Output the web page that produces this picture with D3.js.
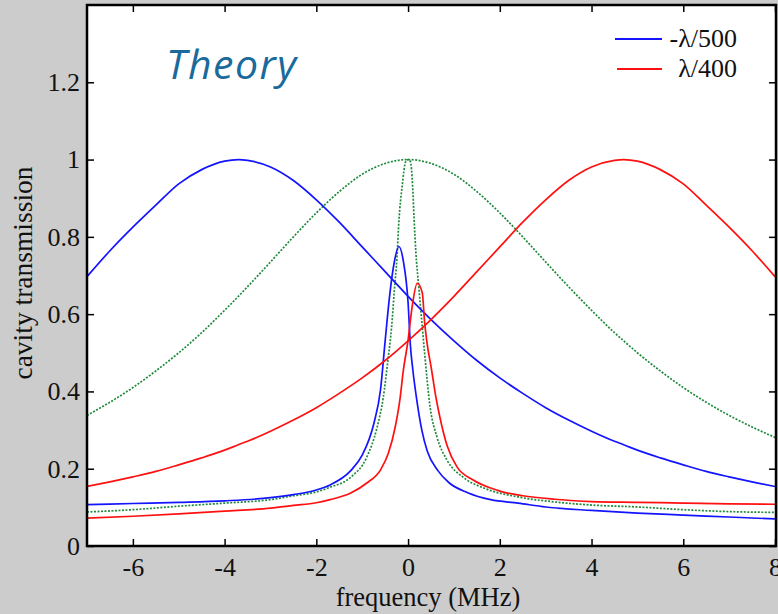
<!DOCTYPE html>
<html><head><meta charset="utf-8">
<script src="https://cdn.jsdelivr.net/npm/d3@7"></script>
<style>
html,body{margin:0;padding:0;background:#cccccc;}
svg{display:block;}
</style></head>
<body>
<svg id="chart" width="778" height="614"></svg>
<script>
// ---- data ----
const xTicks = [-6,-4,-2,0,2,4,6,8];
const xTickLabels = ["-6","-4","-2","0","2","4","6","8"];
const yTicks = [0,0.2,0.4,0.6,0.8,1,1.2];
const yTickLabels = ["0","0.2","0.4","0.6","0.8","1","1.2"];
const legendLabels = [["-", "λ", "/500"], ["", "λ", "/400"]];

// broad curves
const broadX = [-7,-6.5,-6,-5.5,-5,-4.5,-4,-3.7,-3.5,-3,-2.5,-2,-1.5,-1,-0.5,0,0.5,1,1.5,2,2.5,3,3.5,4,4.5,4.7,5,5.5,6,6.5,7,7.5,8];
const blueBroad = [0.697,0.764,0.825,0.882,0.937,0.974,0.996,1.0,0.998,0.981,0.946,0.896,0.838,0.774,0.710,0.646,0.586,0.531,0.480,0.435,0.395,0.358,0.326,0.297,0.271,0.262,0.248,0.228,0.210,0.193,0.179,0.166,0.154];
const greenBroad = [0.338,0.372,0.410,0.453,0.500,0.552,0.610,0.646,0.671,0.735,0.800,0.862,0.917,0.962,0.990,1.0,0.990,0.962,0.917,0.862,0.800,0.735,0.671,0.610,0.552,0.531,0.500,0.453,0.410,0.372,0.338,0.308,0.281];
const redBroad = [0.154,0.166,0.179,0.193,0.210,0.228,0.248,0.262,0.271,0.297,0.326,0.358,0.395,0.435,0.480,0.531,0.586,0.646,0.710,0.774,0.838,0.896,0.946,0.981,0.998,1.0,0.996,0.974,0.937,0.882,0.825,0.764,0.697];

// narrow curves
const blueNarrowX = [-7,-6,-5,-4,-3,-2.5,-2,-1.7,-1.25,-1.0,-0.75,-0.6,-0.5,-0.4,-0.3,-0.2,-0.1,0,0.05,0.1,0.2,0.3,0.42,0.65,0.9,1.3,1.8,2.4,3,4,5,6,7,8];
const blueNarrow = [0.107,0.110,0.113,0.117,0.125,0.133,0.145,0.158,0.195,0.235,0.315,0.405,0.53,0.65,0.735,0.775,0.735,0.63,0.52,0.46,0.37,0.30,0.245,0.195,0.163,0.138,0.120,0.111,0.101,0.092,0.085,0.080,0.075,0.070];

const greenNarrowX = [-7,-6,-5,-4,-3,-2.5,-2,-1.7,-1.25,-0.9,-0.68,-0.54,-0.44,-0.36,-0.3,-0.24,-0.2,-0.13,-0.05,0,0.05,0.1,0.13,0.17,0.23,0.3,0.36,0.48,0.63,0.85,1.2,1.65,2.4,3.2,4,5,6,7,8];
const greenNarrow = [0.088,0.094,0.103,0.111,0.120,0.130,0.140,0.152,0.178,0.230,0.305,0.385,0.480,0.565,0.660,0.750,0.840,0.930,0.995,1.0,0.995,0.930,0.850,0.760,0.675,0.580,0.500,0.360,0.282,0.222,0.178,0.150,0.127,0.114,0.106,0.101,0.094,0.089,0.087];

const redNarrowX = [-7,-6,-5,-4,-3,-2.5,-2,-1.7,-1.25,-0.9,-0.6,-0.43,-0.28,-0.17,-0.11,0,0.09,0.2,0.31,0.36,0.42,0.5,0.6,0.7,0.85,1.07,1.42,1.8,2,2.5,3.2,4,5,6,7,8];
const redNarrow = [0.072,0.077,0.083,0.090,0.098,0.105,0.112,0.120,0.137,0.163,0.197,0.240,0.308,0.386,0.448,0.533,0.620,0.680,0.655,0.580,0.520,0.465,0.390,0.330,0.260,0.204,0.171,0.150,0.142,0.130,0.121,0.115,0.113,0.111,0.109,0.108];

// ---- drawing ----
const svg = d3.select("#chart");
const W = 778, H = 614;
const pL = 87, pR = 776, pT = 5, pB = 546;
const x = d3.scaleLinear().domain([-7, 8]).range([pL, 775]);
const y = d3.scaleLinear().domain([0, 1.4]).range([pB, pT]);

svg.append("rect").attr("width", W).attr("height", H).attr("fill", "#cccccc");
svg.append("rect").attr("x", pL).attr("y", pT).attr("width", pR - pL).attr("height", pB - pT).attr("fill", "#ffffff");

svg.append("defs").append("clipPath").attr("id", "clip")
  .append("rect").attr("x", pL).attr("y", pT).attr("width", pR - pL).attr("height", pB - pT);

const line = d3.line().x(d => x(d[0])).y(d => y(d[1])).curve(d3.curveMonotoneX);
const g = svg.append("g").attr("clip-path", "url(#clip)");

function pairs(xs, ys) { return xs.map((v, i) => [v, ys[i]]); }

const series = [
  {xs: broadX, ys: greenBroad, color: "#1f8a3c", dash: "2,1.5"},
  {xs: greenNarrowX, ys: greenNarrow, color: "#1f8a3c", dash: "2,1.5"},
  {xs: broadX, ys: blueBroad, color: "#1414ff", dash: null},
  {xs: blueNarrowX, ys: blueNarrow, color: "#1414ff", dash: null},
  {xs: broadX, ys: redBroad, color: "#ff1010", dash: null},
  {xs: redNarrowX, ys: redNarrow, color: "#ff1010", dash: null}
];
series.forEach(s => {
  g.append("path").datum(pairs(s.xs, s.ys))
    .attr("d", line).attr("fill", "none")
    .attr("stroke", s.color).attr("stroke-width", 1.7)
    .attr("stroke-dasharray", s.dash);
});

// axes (ticks inward)
const font = "'Liberation Serif','Times New Roman',serif";
const axB = svg.append("g").attr("transform", `translate(0,${pB})`)
  .call(d3.axisBottom(x).tickValues(xTicks).tickSize(-7).tickSizeOuter(0)
    .tickFormat((d, i) => xTickLabels[i]));
const axT = svg.append("g").attr("transform", `translate(0,${pT})`)
  .call(d3.axisTop(x).tickValues(xTicks).tickSize(-7).tickFormat("").tickSizeOuter(0));
const axL = svg.append("g").attr("transform", `translate(${pL},0)`)
  .call(d3.axisLeft(y).tickValues(yTicks).tickSize(-7).tickPadding(7).tickSizeOuter(0)
    .tickFormat((d, i) => yTickLabels[i]));
const axR = svg.append("g").attr("transform", `translate(${pR},0)`)
  .call(d3.axisRight(y).tickValues(yTicks).tickSize(-7).tickFormat("").tickSizeOuter(0));
[axB, axT, axL, axR].forEach(a => {
  a.select(".domain").remove();
  a.selectAll(".tick line").attr("stroke", "#000").attr("stroke-width", 1.5);
  a.selectAll("text").attr("font-family", font).attr("font-size", 26).attr("fill", "#111");
});
axB.selectAll(".tick text").attr("dy", "0.71em").attr("y", 12);

// frame
svg.append("rect").attr("x", pL).attr("y", pT).attr("width", pR - pL).attr("height", pB - pT)
  .attr("fill", "none").attr("stroke", "#000").attr("stroke-width", 2.5);

// axis titles
svg.append("text").attr("x", 428).attr("y", 606).attr("text-anchor", "middle")
  .attr("font-family", font).attr("font-size", 26.5).attr("fill", "#111").text("frequency (MHz)");
svg.append("text").attr("transform", "translate(32,273) rotate(-90)").attr("text-anchor", "middle")
  .attr("font-family", font).attr("font-size", 27.5).attr("fill", "#111").text("cavity transmission");

// Theory label
svg.append("text").attr("x", 166).attr("y", 79)
  .attr("font-family", "'Open Sans',sans-serif").attr("font-style", "italic")
  .attr("letter-spacing", 1.5)
  .attr("font-size", 41).attr("fill", "#1a6a9c").text("Theory");

// legend
const legColors = ["#1414ff", "#ff1010"];
const legY = [39, 69];
legendLabels.forEach((parts, i) => {
  svg.append("line").attr("x1", 615 + i * 2).attr("x2", 662).attr("y1", legY[i]).attr("y2", legY[i])
    .attr("stroke", legColors[i]).attr("stroke-width", 1.8);
  const t = svg.append("text").attr("x", 737).attr("y", legY[i] + 8).attr("text-anchor", "end")
    .attr("font-family", font).attr("font-size", 26).attr("fill", "#111");
  parts.forEach(p => { if (p) t.append("tspan").attr("font-family", font).text(p); });
});
</script>
</body></html>
